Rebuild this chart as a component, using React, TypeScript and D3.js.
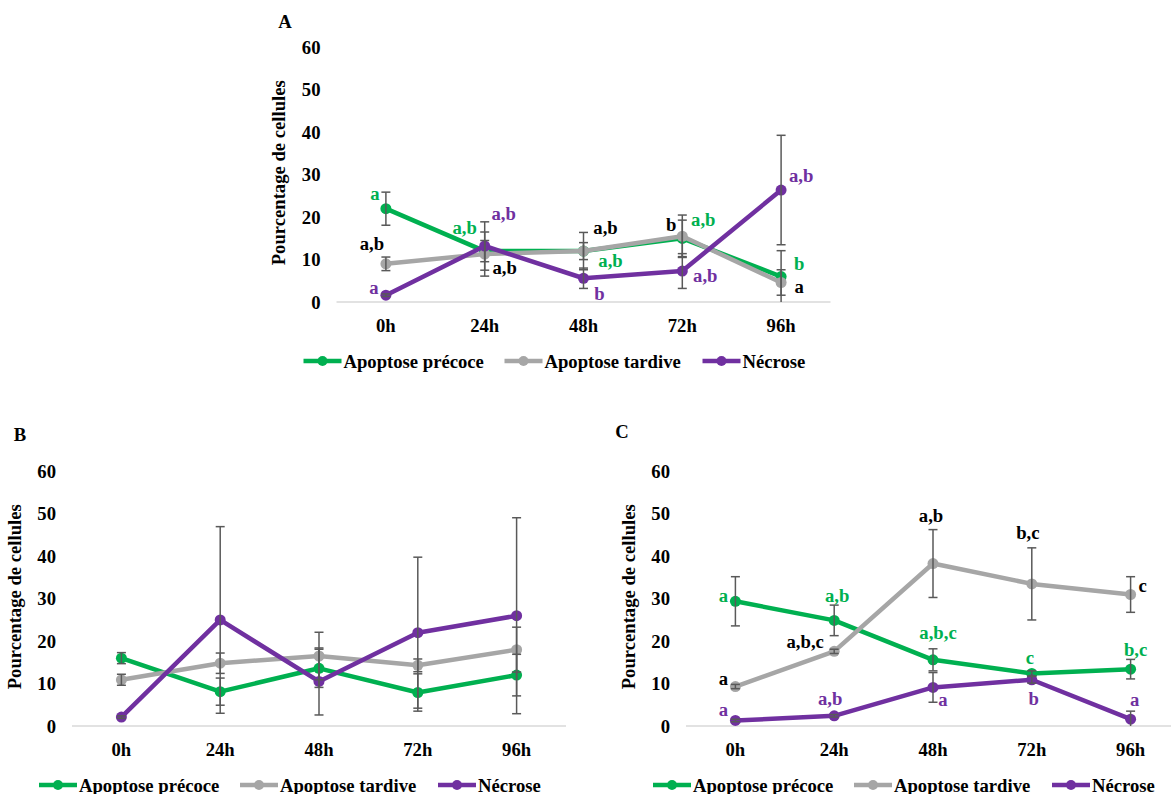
import React from "react";
import * as d3 from "d3";

// ---------- data ----------
const categories = ["0h", "24h", "48h", "72h", "96h"];
const seriesNames = ["Apoptose précoce", "Apoptose tardive", "Nécrose"];
const yTicks = [0, 10, 20, 30, 40, 50, 60];

// Panel A
const precoceA = [22.0, 12.0, 12.0, 15.0, 6.0];
const precoceErrA = [3.9, 2.5, 2.0, 4.3, 6.1];
const tardiveA = [9.0, 11.3, 12.0, 15.5, 4.6];
const tardiveErrA = [1.6, 5.2, 4.4, 5.0, 3.0];
const necroseA = [1.6, 13.2, 5.6, 7.3, 26.4];
const necroseErrA = [0.3, 5.7, 2.4, 4.1, 12.9];

// Panel B
const precoceB = [16.0, 8.1, 13.6, 7.9, 12.0];
const precoceErrB = [1.3, 3.2, 4.5, 4.4, 4.9];
const tardiveB = [10.9, 14.8, 16.5, 14.3, 18.0];
const tardiveErrB = [1.3, 2.4, 5.6, 1.5, 5.3];
const necroseB = [2.1, 25.0, 10.5, 22.0, 26.0];
const necroseErrB = [0.3, 22.0, 7.9, 17.8, 23.1];

// Panel C
const precoceC = [29.4, 24.9, 15.6, 12.4, 13.4];
const precoceErrC = [5.8, 3.6, 2.6, 0.6, 2.3];
const tardiveC = [9.3, 17.6, 38.3, 33.5, 31.0];
const tardiveErrC = [0.5, 0.5, 8.0, 8.5, 4.2];
const necroseC = [1.3, 2.4, 9.1, 10.9, 1.6];
const necroseErrC = [0.3, 0.3, 3.5, 0.8, 1.9];

// significance letters: [series index, category index, text]
const lettersA: [number, number, string][] = [
  [0, 0, "a"], [0, 1, "a,b"], [0, 2, "a,b"], [0, 3, "a,b"], [0, 4, "b"],
  [1, 0, "a,b"], [1, 1, "a,b"], [1, 2, "a,b"], [1, 3, "b"], [1, 4, "a"],
  [2, 0, "a"], [2, 1, "a,b"], [2, 2, "b"], [2, 3, "a,b"], [2, 4, "a,b"],
];
const lettersC: [number, number, string][] = [
  [0, 0, "a"], [0, 1, "a,b"], [0, 2, "a,b,c"], [0, 3, "c"], [0, 4, "b,c"],
  [1, 0, "a"], [1, 1, "a,b,c"], [1, 2, "a,b"], [1, 3, "b,c"], [1, 4, "c"],
  [2, 0, "a"], [2, 1, "a,b"], [2, 2, "a"], [2, 3, "b"], [2, 4, "a"],
];
// placement (px offsets from the point) of each letter, same order
const letterOffsetsA = [
  [-11, -15], [-20, -24], [27, 9], [21, -19], [18, -13],
  [-14, -20], [20, 13], [22, -24], [-11, -12], [18, 4],
  [-12, -8], [19, -33], [16, 15], [23, 4], [20, -15],
];
const letterOffsetsC = [
  [-12, -6], [3, -25], [5, -27], [-2, -16], [5, -20],
  [-12, -8], [-29, -10], [-2, -48], [-4, -51], [12, -9],
  [-12, -11], [-4, -17], [10, 12], [2, 19], [4, -20],
];

// ---------- styles ----------
const COLORS = ["#00B050", "#A6A6A6", "#7030A0"];
const LETTER_COLORS = ["#00B050", "#000000", "#7030A0"];
const FONT = "'Liberation Serif', 'Times New Roman', serif";
const FS = 18.67;

type PanelProps = {
  label: string;
  labelPos: [number, number];
  left: number;
  y0: number;
  values: number[][];
  errors: number[][];
  letters?: [number, number, string][];
  offsets?: number[][];
};

const PLOT_W = 494;
const PLOT_H = 254.5;

function Panel(p: PanelProps) {
  const x = d3.scaleBand().domain(categories).range([p.left, p.left + PLOT_W]);
  const y = d3.scaleLinear().domain([0, 60]).range([p.y0, p.y0 - PLOT_H]);
  const cx = (i: number) => (x(categories[i]) as number) + x.bandwidth() / 2;
  const line = d3
    .line<number>()
    .x((_, i) => cx(i))
    .y((d) => y(d));
  const yMid = (y(0) + y(60)) / 2 - 2;
  const legendX = p.left - 33;
  const legendY = p.y0 + 59;
  const itemOffsets = [0, 201, 399];

  return (
    <g fontFamily={FONT} fontWeight="bold">
      <text x={p.labelPos[0]} y={p.labelPos[1]} fontSize={FS} textAnchor="middle">
        {p.label}
      </text>
      {/* y tick labels */}
      {yTicks.map((t) => (
        <text key={t} x={p.left - 16} y={y(t)} fontSize={FS} textAnchor="end" dominantBaseline="central">
          {t}
        </text>
      ))}
      <text
        transform={`translate(${p.left - 58},${yMid}) rotate(-90)`}
        fontSize={FS}
        textAnchor="middle"
        dominantBaseline="central"
      >
        Pourcentage de cellules
      </text>
      {/* x axis */}
      <line x1={p.left} x2={p.left + PLOT_W} y1={y(0)} y2={y(0)} stroke="#D9D9D9" strokeWidth={1.5} />
      {categories.map((c, i) => (
        <text key={c} x={cx(i)} y={p.y0 + 23} fontSize={FS} textAnchor="middle" dominantBaseline="central">
          {c}
        </text>
      ))}
      {/* lines & markers */}
      {p.values.map((vals, s) => (
        <g key={s}>
          <path d={line(vals) as string} fill="none" stroke={COLORS[s]} strokeWidth={4.5} strokeLinejoin="round" />
          {vals.map((v, i) => (
            <circle key={i} cx={cx(i)} cy={y(v)} r={5.5} fill={COLORS[s]} />
          ))}
        </g>
      ))}
      {/* error bars */}
      {p.values.map((vals, s) =>
        vals.map((v, i) => {
          const e = p.errors[s][i];
          const top = y(v + e);
          const bot = y(Math.max(0, v - e));
          const X = cx(i);
          return (
            <g key={`${s}-${i}`} stroke="#595959" strokeWidth={1.5}>
              <line x1={X} x2={X} y1={top} y2={bot} />
              <line x1={X - 4.5} x2={X + 4.5} y1={top} y2={top} />
              {v - e >= 0 && <line x1={X - 4.5} x2={X + 4.5} y1={bot} y2={bot} />}
            </g>
          );
        })
      )}
      {/* letters */}
      {p.letters &&
        p.letters.map(([s, i, t], k) => (
          <text
            key={k}
            x={cx(i) + p.offsets![k][0]}
            y={y(p.values[s][i]) + p.offsets![k][1]}
            fontSize={FS}
            fill={LETTER_COLORS[s]}
            textAnchor="middle"
            dominantBaseline="central"
          >
            {t}
          </text>
        ))}
      {/* legend */}
      {seriesNames.map((n, s) => {
        const lx = legendX + itemOffsets[s];
        return (
          <g key={n}>
            <line x1={lx} x2={lx + 38} y1={legendY} y2={legendY} stroke={COLORS[s]} strokeWidth={4.5} />
            <circle cx={lx + 19} cy={legendY} r={5} fill={COLORS[s]} />
            <text x={lx + 40} y={legendY} fontSize={FS} dominantBaseline="central">
              {n}
            </text>
          </g>
        );
      })}
    </g>
  );
}

export default function App() {
  return (
    <svg
      width={1171}
      height={794}
      style={{ position: "absolute", left: 0, top: 0, background: "#fff" }}
    >
      <rect width={1171} height={794} fill="#fff" />
      <Panel
        label="A"
        labelPos={[285, 28]}
        left={336.5}
        y0={302}
        values={[precoceA, tardiveA, necroseA]}
        errors={[precoceErrA, tardiveErrA, necroseErrA]}
        letters={lettersA}
        offsets={letterOffsetsA}
      />
      <Panel
        label="B"
        labelPos={[20, 441]}
        left={72}
        y0={726}
        values={[precoceB, tardiveB, necroseB]}
        errors={[precoceErrB, tardiveErrB, necroseErrB]}
      />
      <Panel
        label="C"
        labelPos={[622, 438]}
        left={686}
        y0={726}
        values={[precoceC, tardiveC, necroseC]}
        errors={[precoceErrC, tardiveErrC, necroseErrC]}
        letters={lettersC}
        offsets={letterOffsetsC}
      />
    </svg>
  );
}
